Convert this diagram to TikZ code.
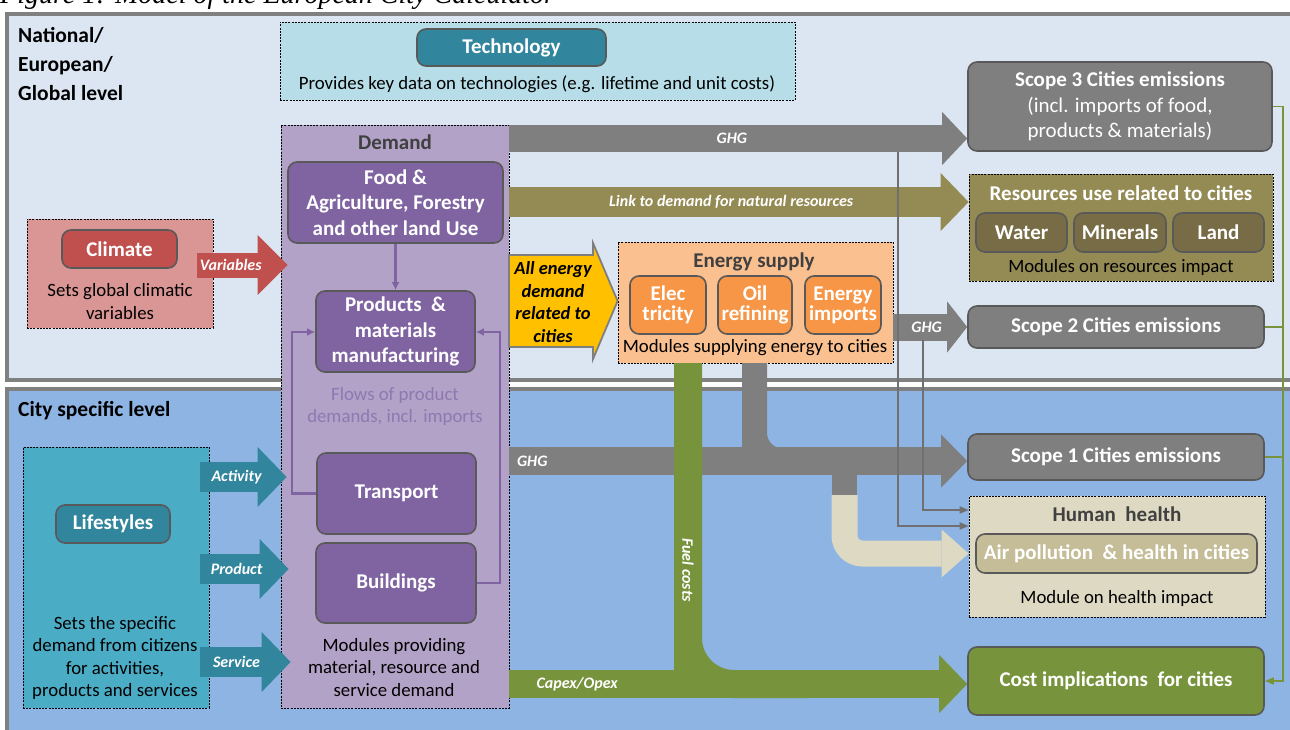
\documentclass[tikz,border=0pt]{standalone}
\usepackage{fontspec}
\setmainfont{Carlito}
\newfontfamily\capfont{Liberation Serif}
\usetikzlibrary{arrows.meta,calc}

\definecolor{topbg}{HTML}{DCE6F2}
\definecolor{botbg}{HTML}{8DB4E2}
\definecolor{frame}{HTML}{808080}
\definecolor{techbg}{HTML}{B7DEE8}
\definecolor{tealbox}{HTML}{31859C}
\definecolor{climbg}{HTML}{DA9694}
\definecolor{climbox}{HTML}{C0504D}
\definecolor{demandbg}{HTML}{B3A2C7}
\definecolor{purplebox}{HTML}{8064A2}
\definecolor{flowtxt}{HTML}{8E78B2}
\definecolor{lifebg}{HTML}{4BACC6}
\definecolor{ghg}{HTML}{7F7F7F}
\definecolor{thinline}{HTML}{707070}
\definecolor{olive}{HTML}{948A54}
\definecolor{olivedark}{HTML}{776C45}
\definecolor{amber}{HTML}{FFC000}
\definecolor{energybg}{HTML}{FAC090}
\definecolor{orangebox}{HTML}{F79646}
\definecolor{healthbg}{HTML}{DDD9C3}
\definecolor{airbox}{HTML}{C4BD97}
\definecolor{costgreen}{HTML}{77933C}
\definecolor{boxedge}{HTML}{595959}
\definecolor{headtxt}{HTML}{404040}

\newcommand\fsz[2]{\fontsize{#1}{#2}\selectfont}

\tikzset{
  panel/.style={draw=frame, line width=4pt},
  mod/.style={rounded corners=9pt, draw=boxedge, line width=1.6pt, text=white,
    font=\bfseries\fsz{21}{25.5}, align=center, inner sep=0pt},
  area/.style={draw=black, line width=0.8pt, dash pattern=on 2pt off 1.2pt, inner sep=0pt},
  txt/.style={font=\fsz{18.8}{22.5}, align=center, inner sep=0pt, text=black},
  headline/.style={font=\bfseries\fsz{21}{24}, text=headtxt, inner sep=0pt},
  albl/.style={font=\bfseries\itshape\fsz{16}{18}, text=white, inner sep=0pt},
  fat/.style n args={3}{line width=#1, -{Triangle[length=#3, width=#2, line width=0pt]}},
  loopline/.style={draw=purplebox, line width=2.5pt, -{Latex[length=8pt, width=8pt]}},
  thinarrow/.style={draw=thinline, line width=1.8pt, -{Triangle[length=9pt, width=7pt]}},
  greenlink/.style={draw=costgreen, line width=1.5pt},
}

\begin{document}
\begin{tikzpicture}[x=1pt, y=-1pt]
\useasboundingbox (0,0) rectangle (1290,730);
\clip (0,0) rectangle (1290,730);

% caption above the two levels
\node[anchor=base west, font=\capfont\itshape\fsz{28}{30}, inner sep=0pt] (caption) at (0,4)
  {Figure 1: Model of the European City Calculator};

% the two levels
\draw[panel, fill=topbg] (7,14) rectangle (1300,380);
\draw[panel, fill=botbg] (7,389) rectangle (1300,745);
\node[anchor=north west, align=left, font=\bfseries\fsz{21.5}{29}, inner sep=0pt] (natl) at (18,27)
  {National/\\European/\\Global level};
\node[anchor=north west, font=\bfseries\fsz{21.5}{25}, inner sep=0pt] (citylvl) at (18,401)
  {City specific level};

% technology
\node[area, fill=techbg, minimum width=515, minimum height=78] (techarea) at (537.5,61) {};
\node[mod, fill=tealbox, minimum width=189, minimum height=37] (tech) at (511.5,47.5) {Technology};
\node[txt] (techtxt) at (537,84) {Provides key data on technologies (e.g. lifetime and unit costs)};

% outputs on the right
\node[mod, fill=ghg, minimum width=304, minimum height=89] (scope3) at (1120,106.5)
  {Scope 3 Cities emissions\\\mdseries (incl. imports of food,\\\mdseries products \& materials)};
\node[area, fill=olive, minimum width=304, minimum height=107] (resources) at (1121,227.5) {};
\node[headline, text=white] (restitle) at (1121,193) {Resources use related to cities};
\node[mod, fill=olivedark, minimum width=91, minimum height=39] (water) at (1021.5,232.5) {Water};
\node[mod, fill=olivedark, minimum width=92, minimum height=39] (minerals) at (1120,232.5) {Minerals};
\node[mod, fill=olivedark, minimum width=91, minimum height=39] (land) at (1218.5,232.5) {Land};
\node[txt] (restxt) at (1121,267) {Modules on resources impact};
\node[mod, fill=ghg, minimum width=296, minimum height=42] (scope2) at (1116,327) {Scope 2 Cities emissions};
\node[mod, fill=ghg, minimum width=296, minimum height=46] (scope1) at (1116,457) {Scope 1 Cities emissions};
\node[area, fill=healthbg, minimum width=296, minimum height=121] (health) at (1117,556.5) {};
\node[headline] (healthtitle) at (1117,514) {Human\ \ health};
\node[mod, fill=airbox, minimum width=281, minimum height=39] (air) at (1116.5,553.5) {Air pollution\ \ \& health in cities};
\node[txt] (healthtxt) at (1117,598) {Module on health impact};
\node[mod, fill=costgreen, minimum width=296, minimum height=68] (cost) at (1116,681) {Cost implications\ \ for cities};

% climate
\node[area, fill=climbg, minimum width=186, minimum height=109] (climarea) at (120,273.5) {};
\node[mod, fill=climbox, minimum width=115, minimum height=38] (climate) at (119.5,249) {Climate};
\node[txt] (climtxt) at (120,301.5) {Sets global climatic\\variables};

% lifestyles
\node[area, fill=lifebg, minimum width=186, minimum height=261] (lifearea) at (116,577.5) {};
\node[mod, fill=tealbox, minimum width=114, minimum height=38] (lifestyles) at (113,524) {Lifestyles};
\node[txt] (lifetxt) at (115,658) {Sets the specific\\demand from citizens\\for activities,\\products and services};

% demand modules
\node[area, fill=demandbg, minimum width=228, minimum height=583] (demand) at (395,416.5) {};
\node[headline] (demandtitle) at (395,142) {Demand};
\node[mod, fill=purplebox, minimum width=215, minimum height=81] (food) at (395.5,202.5)
  {Food \&\\Agriculture, Forestry\\and other land Use};
\node[mod, fill=purplebox, minimum width=159, minimum height=81] (products) at (395.5,331.5)
  {Products\ \ \&\\materials\\manufacturing};
\node[txt, text=flowtxt] (flowtxt) at (395,406.5) {Flows of product\\demands, incl. imports};
\node[mod, fill=purplebox, minimum width=159, minimum height=81] (transport) at (396.5,493.5) {Transport};
\node[mod, fill=purplebox, minimum width=160, minimum height=80] (buildings) at (396,583) {Buildings};
\node[txt] (demandtxt) at (394,667.5) {Modules providing\\material, resource and\\service demand};

\coordinate (loopL) at (292,332);
\coordinate (loopR) at (500,332);
\draw[loopline] (food.south) -- (products.north);
\draw[loopline] (transport.west) -- (transport.west -| loopL) -- (loopL) -- (products.west |- loopL);
\draw[loopline] (buildings.east) -- (buildings.east -| loopR) -- (loopR) -- (products.east |- loopR);

% energy supply
\node[area, fill=energybg, minimum width=275, minimum height=121] (energy) at (755.5,302.5) {};
\node[headline] (energytitle) at (754,262) {Energy supply};
\node[mod, fill=orangebox, minimum width=76, minimum height=58, font=\bfseries\fsz{21}{20}] (elec) at (668,305) {Elec\\tricity};
\node[mod, fill=orangebox, minimum width=74, minimum height=58, font=\bfseries\fsz{21}{20}] (oil) at (755,305) {Oil\\refining};
\node[mod, fill=orangebox, minimum width=76, minimum height=58, font=\bfseries\fsz{21}{20}] (imports) at (843,305) {Energy\\imports};
\node[txt] (energytxt) at (755,348) {Modules supplying energy to cities};

% levels of the flows
\coordinate (yvar) at (0,265);
\coordinate (yact) at (0,477);
\coordinate (yprod) at (0,569);
\coordinate (yserv) at (0,662);
\coordinate (yg3) at (0,138.5);
\coordinate (ynat) at (0,202);
\coordinate (yg2) at (0,327);
\coordinate (yg1) at (0,461);
\coordinate (ycap) at (0,684);
\coordinate (ybeige) at (0,553.5);

% inputs into demand
\draw[climbox, fat={25pt}{60pt}{30pt}] ($(climarea.east |- yvar)+(-16,0)$) -- ($(demand.west |- yvar)+(7,0)$)
  node[albl, pos=0.37] {Variables};
\draw[tealbox, fat={30pt}{60pt}{29pt}] ($(lifearea.east |- yact)+(-9,0)$) -- ($(demand.west |- yact)+(6,0)$)
  node[albl, pos=0.42] {Activity};
\draw[tealbox, fat={30pt}{60pt}{29pt}] ($(lifearea.east |- yprod)+(-9,0)$) -- ($(demand.west |- yprod)+(8,0)$)
  node[albl, pos=0.41] {Product};
\draw[tealbox, fat={30pt}{60pt}{29pt}] ($(lifearea.east |- yserv)+(-9,0)$) -- ($(demand.west |- yserv)+(10,0)$)
  node[albl, pos=0.4] {Service};

% flows out of demand
\draw[ghg, fat={27pt}{53pt}{25pt}] (demand.east |- yg3) -- (scope3.west |- yg3)
  node[albl, pos=0.486] {GHG};
\draw[olive, fat={30pt}{58pt}{28pt}] (demand.east |- ynat) -- (resources.west |- ynat)
  node[albl, pos=0.483] {Link to demand for natural resources};
\draw[ghg, fat={27pt}{51pt}{20pt}] (energy.east |- yg2) -- (scope2.west |- yg2)
  node[albl, pos=0.45] {GHG};

% all energy demand handed to the supply modules
\coordinate (ya) at (509,301);
\filldraw[fill=amber, draw=ghg, line width=1.8pt]
  ($(ya)+(0,-46)$) -- ($(ya)+(84,-46)$) -- ($(ya)+(84,-58)$) -- (energy.west |- ya)
  -- ($(ya)+(84,58)$) -- ($(ya)+(84,46)$) -- ($(ya)+(0,46)$) -- cycle;
\node[font=\bfseries\itshape\fsz{18.5}{22.7}, align=center, inner sep=0pt] (alltxt) at (553,302)
  {All energy\\demand\\related to\\cities};

% direct emissions at city level
\draw[ghg, fat={28pt}{53pt}{26pt}] (demand.east |- yg1) -- (scope1.west |- yg1)
  node[albl, pos=0.05] {GHG};

% emissions from energy supply joining the scope 1 flow
\coordinate (gp) at (754.5,0);
\draw[ghg, line width=25pt] (energy.south -| gp) -- (gp |- yg1);
\draw[ghg, line width=25pt, rounded corners=28pt] (energy.south -| gp) -- (gp |- yg1) -- ++(80,0);

% part of the flow feeding human health
\coordinate (bp) at (844.5,0);
\fill[ghg] (832,470) rectangle (857,495.5);
\draw[healthbg, fat={26pt}{48pt}{27pt}, rounded corners=18pt] (bp |- 0,495) -- (bp |- ybeige) -- (health.west |- ybeige);

% fuel costs feeding the cost flow
\coordinate (gf) at (688,0);
\draw[costgreen, line width=28pt] (energy.south -| gf) -- (gf |- ycap);
\draw[costgreen, line width=28pt, rounded corners=46pt] (energy.south -| gf) -- (gf |- ycap) -- ++(120,0);
\node[albl, rotate=-90] (fueltxt) at (688,570) {Fuel costs};
\draw[costgreen, fat={28pt}{58pt}{28pt}] (demand.east |- ycap) -- (cost.west |- ycap)
  node[albl, pos=0.148] {Capex/Opex};

% links into human health
\coordinate (t1) at (898,152);
\coordinate (t2) at (923,340);
\coordinate (h1) at (0,526);
\coordinate (h2) at (0,510);
\draw[thinarrow] (t1) -- (t1 |- h1) -- (health.west |- h1);
\draw[thinarrow] (t2) -- (t2 |- h2) -- (health.west |- h2);

% emissions summed into cost implications
\coordinate (gx) at (1283,0);
\draw[greenlink] (scope2.east) -- (scope2.east -| gx);
\draw[greenlink] (scope1.east) -- (scope1.east -| gx);
\draw[greenlink, -{Triangle[length=9pt, width=7pt]}] (scope3.east) -- (scope3.east -| gx) -- (cost.east -| gx) -- (cost.east);
\end{tikzpicture}
\end{document}
